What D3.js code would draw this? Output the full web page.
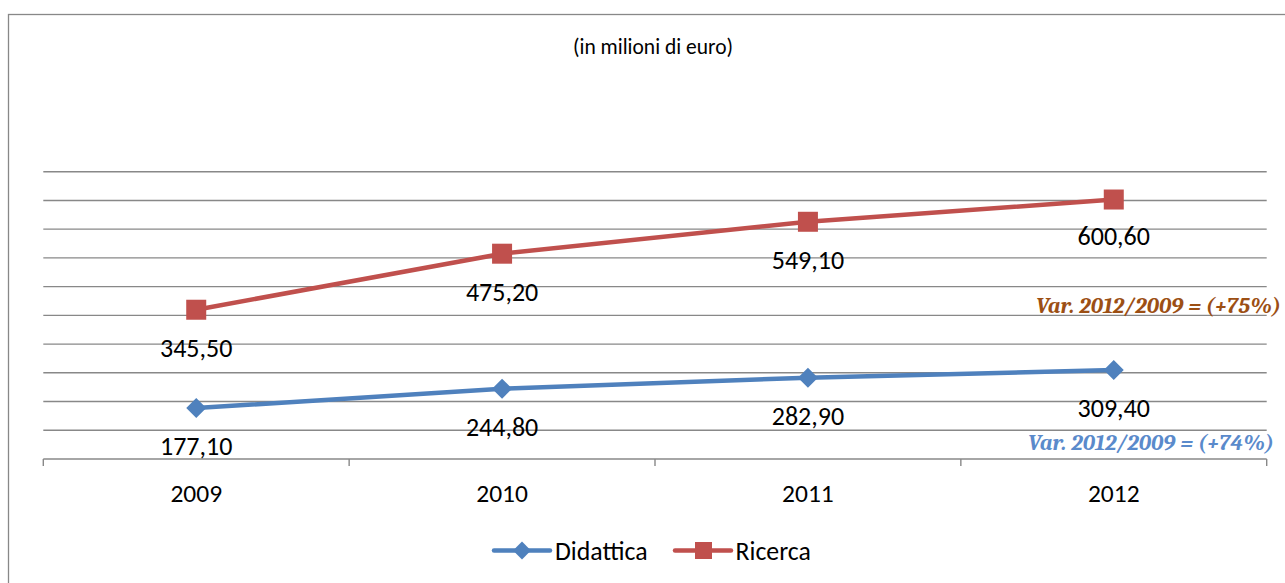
<!DOCTYPE html>
<html>
<head>
<meta charset="utf-8">
<script src="https://cdn.jsdelivr.net/npm/d3@7"></script>
<style>
  html, body { margin: 0; padding: 0; background: #fff; }
  svg { display: block; }
</style>
</head>
<body>
<svg id="chart" width="1285" height="583"></svg>
<script>
// ---- data ----
const years = ["2009", "2010", "2011", "2012"];
const didattica = [177.10, 244.80, 282.90, 309.40];
const ricerca = [345.50, 475.20, 549.10, 600.60];
const seriesNames = ["Didattica", "Ricerca"];
const subtitle = "(in milioni di euro)";
const varRicerca = "Var. 2012/2009 = (+75%)";
const varDidattica = "Var. 2012/2009 = (+74%)";

// ---- layout ----
const W = 1285, H = 583;
const plot = { left: 43.3, right: 1266.7, top: 171.7, bottom: 459 };
const blue = "#4F81BD", red = "#C0504D";
const gridColor = "#888888";
const font = "Carlito, 'Open Sans', sans-serif";
const fmt = v => d3.format(".2f")(v).replace(".", ",");

const svg = d3.select("#chart");

// frame
svg.append("rect")
  .attr("x", 8.5).attr("y", 14.5)
  .attr("width", W + 20).attr("height", H + 20)
  .attr("fill", "none").attr("stroke", gridColor).attr("stroke-width", 1.3);

// subtitle
svg.append("text")
  .attr("x", 653).attr("y", 54)
  .attr("text-anchor", "middle")
  .attr("font-family", font).attr("font-size", 21.5)
  .attr("fill", "#000")
  .text(subtitle);

// scales
const x = d3.scaleBand().domain(years).range([plot.left, plot.right]).paddingInner(0).paddingOuter(0);
const yPrimary = d3.scaleLinear().domain([0, 665]).range([plot.bottom, plot.top]);   // Ricerca
const ySecondary = d3.scaleLinear().domain([0, 1000]).range([plot.bottom, plot.top]); // Didattica
const cx = d => x(d) + x.bandwidth() / 2;

// gridlines (10 equal divisions of the hidden primary axis)
const gridVals = d3.range(1, 11).map(i => i * 66.5);
svg.append("g").selectAll("line").data(gridVals).join("line")
  .attr("x1", plot.left).attr("x2", plot.right)
  .attr("y1", d => yPrimary(d)).attr("y2", d => yPrimary(d))
  .attr("stroke", gridColor).attr("stroke-width", 1.4);

// x axis
const xAxis = d3.axisBottom(x).tickSize(0).tickPadding(0);
const gx = svg.append("g").attr("transform", `translate(0,${plot.bottom})`).call(xAxis);
gx.select(".domain").remove();
gx.selectAll(".tick text")
  .attr("font-family", font).attr("font-size", 25.5).attr("fill", "#000")
  .attr("dy", 0).attr("y", 43);
svg.append("line")
  .attr("x1", plot.left).attr("x2", plot.right)
  .attr("y1", plot.bottom).attr("y2", plot.bottom)
  .attr("stroke", gridColor).attr("stroke-width", 1.4);
// category boundary tick marks
const boundaries = years.map(d => x(d)).concat([x(years[years.length - 1]) + x.bandwidth()]);
svg.append("g").selectAll("line").data(boundaries).join("line")
  .attr("x1", d => d).attr("x2", d => d)
  .attr("y1", plot.bottom).attr("y2", plot.bottom + 7)
  .attr("stroke", gridColor).attr("stroke-width", 1.4);

// lines
const lineD = d3.line().x((d, i) => cx(years[i])).y(d => ySecondary(d));
const lineR = d3.line().x((d, i) => cx(years[i])).y(d => yPrimary(d));

svg.append("path").datum(didattica).attr("d", lineD)
  .attr("fill", "none").attr("stroke", blue).attr("stroke-width", 4.5).attr("stroke-linejoin", "round");
svg.append("path").datum(ricerca).attr("d", lineR)
  .attr("fill", "none").attr("stroke", red).attr("stroke-width", 4.5).attr("stroke-linejoin", "round");

// markers
const diamond = d3.symbol().type(d3.symbolSquare).size(200);
svg.append("g").selectAll("path").data(didattica).join("path")
  .attr("d", diamond)
  .attr("transform", (d, i) => `translate(${cx(years[i])},${ySecondary(d)}) rotate(45)`)
  .attr("fill", blue);
svg.append("g").selectAll("rect").data(ricerca).join("rect")
  .attr("x", (d, i) => cx(years[i]) - 10).attr("y", d => yPrimary(d) - 10)
  .attr("width", 20).attr("height", 20)
  .attr("fill", red);

// data labels
svg.append("g").selectAll("text").data(didattica).join("text")
  .attr("x", (d, i) => cx(years[i])).attr("y", d => ySecondary(d) + 47)
  .attr("text-anchor", "middle").attr("font-family", font).attr("font-size", 26).attr("fill", "#000")
  .text(d => fmt(d));
svg.append("g").selectAll("text").data(ricerca).join("text")
  .attr("x", (d, i) => cx(years[i])).attr("y", (d, i) => yPrimary(d) + (i === 3 ? 45 : 47))
  .attr("text-anchor", "middle").attr("font-family", font).attr("font-size", 26).attr("fill", "#000")
  .text(d => fmt(d));

// variation annotations
const serif = "Caladea, Cambria, 'DejaVu Serif', 'Liberation Serif', serif";
svg.append("text")
  .attr("x", 1036).attr("y", 312.5)
  .attr("font-family", serif).attr("font-size", 23).attr("font-weight", "bold").attr("font-style", "italic")
  .attr("fill", "#9C4F14")
  .attr("textLength", 245).attr("lengthAdjust", "spacingAndGlyphs")
  .text(varRicerca);
svg.append("text")
  .attr("x", 1028).attr("y", 449.5)
  .attr("font-family", serif).attr("font-size", 23).attr("font-weight", "bold").attr("font-style", "italic")
  .attr("fill", "#5A8ACB")
  .attr("textLength", 246).attr("lengthAdjust", "spacingAndGlyphs")
  .text(varDidattica);

// legend
const legendY = 550.5;
const lg = svg.append("g");
// Didattica
lg.append("line").attr("x1", 494).attr("x2", 550).attr("y1", legendY).attr("y2", legendY)
  .attr("stroke", blue).attr("stroke-width", 4.5).attr("stroke-linecap", "round");
lg.append("path").attr("d", d3.symbol().type(d3.symbolSquare).size(160))
  .attr("transform", `translate(522,${legendY}) rotate(45)`).attr("fill", blue);
lg.append("text").attr("x", 555).attr("y", legendY + 9)
  .attr("font-family", font).attr("font-size", 25.8).attr("fill", "#000")
  .text(seriesNames[0]);
// Ricerca
lg.append("line").attr("x1", 675).attr("x2", 731).attr("y1", legendY).attr("y2", legendY)
  .attr("stroke", red).attr("stroke-width", 4.5).attr("stroke-linecap", "round");
lg.append("rect").attr("x", 695).attr("y", legendY - 8.5).attr("width", 17).attr("height", 17).attr("fill", red);
lg.append("text").attr("x", 735.5).attr("y", legendY + 9)
  .attr("font-family", font).attr("font-size", 25.8).attr("fill", "#000")
  .text(seriesNames[1]);
</script>
</body>
</html>
